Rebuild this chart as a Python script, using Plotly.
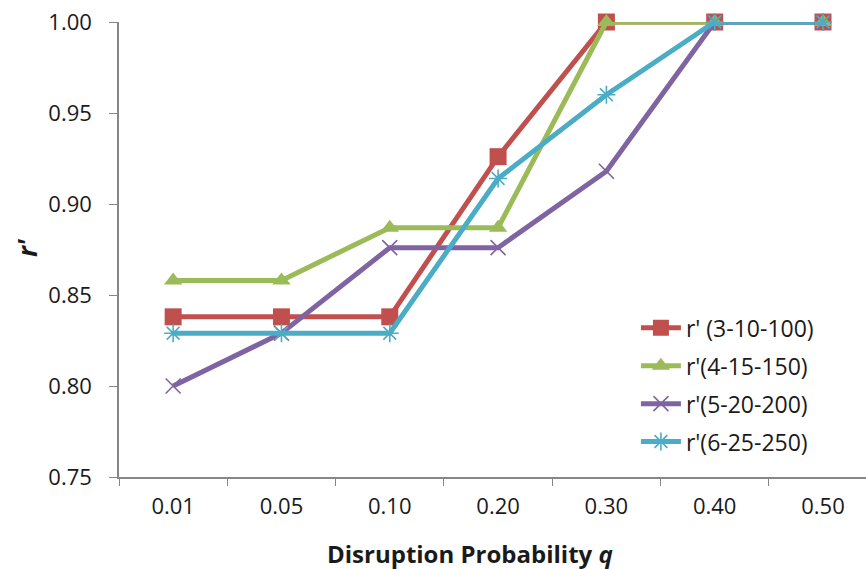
import plotly.graph_objects as go

# Disruption probability categories (x axis)
q_labels = ["0.01", "0.05", "0.10", "0.20", "0.30", "0.40", "0.50"]

# r' values for each network configuration
r_3_10_100 = [0.838, 0.838, 0.838, 0.926, 1.000, 1.000, 1.000]
r_4_15_150 = [0.858, 0.858, 0.887, 0.887, 1.000, 1.000, 1.000]
r_5_20_200 = [0.800, 0.829, 0.876, 0.876, 0.918, 1.000, 1.000]
r_6_25_250 = [0.829, 0.829, 0.829, 0.914, 0.960, 1.000, 1.000]

series_names = ["r' (3-10-100)", "r'(4-15-150)", "r'(5-20-200)", "r'(6-25-250)"]
y_ticks = [0.75, 0.80, 0.85, 0.90, 0.95, 1.00]

FONT = "Open Sans"
AXIS_GREY = "#868686"
TEXT = "#1a1a1a"

styles = [
    dict(color="#C0504D", symbol="square", size=17, lw=0),
    dict(color="#9BBB59", symbol="triangle-up", size=16, lw=0),
    dict(color="#8064A2", symbol="x-thin-open", size=15, lw=1.6),
    dict(color="#4BACC6", symbol="asterisk-open", size=15, lw=1.6),
]

fig = go.Figure()
for name, vals, st in zip(series_names, [r_3_10_100, r_4_15_150, r_5_20_200, r_6_25_250], styles):
    fig.add_trace(go.Scatter(
        x=q_labels, y=vals, name=name, mode="lines+markers",
        line=dict(color=st["color"], width=5),
        marker=dict(symbol=st["symbol"], size=st["size"], color=st["color"],
                    line=dict(color=st["color"], width=st["lw"])),
        cliponaxis=False, legendgroup=name,
    ))

fig.update_layout(
    width=866, height=569,
    margin=dict(l=119, r=0, t=22, b=92),
    paper_bgcolor="white", plot_bgcolor="white",
    font=dict(family=FONT, size=22, color=TEXT),
    showlegend=True,
    legend=dict(
        x=0.692, y=0.375, xanchor="left", yanchor="top",
        font=dict(family=FONT, size=23, color=TEXT),
        bgcolor="rgba(0,0,0,0)", tracegroupgap=5, itemwidth=40,
    ),
    xaxis=dict(
        type="category", range=[-0.5, 6.397],
        showline=True, linecolor=AXIS_GREY, linewidth=1.5,
        ticks="outside", tickson="boundaries", ticklen=7, tickcolor=AXIS_GREY,
        showgrid=False, zeroline=False, ticklabelstandoff=9,
    ),
    yaxis=dict(
        range=[0.75, 1.0], tickvals=y_ticks, tickformat=".2f",
        showline=True, linecolor=AXIS_GREY, linewidth=1.5,
        ticks="outside", ticklen=8, tickcolor=AXIS_GREY,
        showgrid=False, zeroline=False, ticklabelstandoff=13,
    ),
    annotations=[
        dict(text="<b>Disruption Probability <i>q</i></b>", xref="paper", yref="paper",
             x=(470 - 119) / 747, y=-(553 - 477) / 455, xanchor="center", yanchor="middle",
             showarrow=False, font=dict(family=FONT, size=24, color=TEXT)),
        dict(text="<b><i>r'</i></b>", xref="paper", yref="paper",
             x=-(119 - 27) / 747, y=(477 - 248) / 455, xanchor="center", yanchor="middle",
             textangle=-90, showarrow=False, font=dict(family=FONT, size=26, color=TEXT)),
    ],
)

fig.write_html("out.html")
